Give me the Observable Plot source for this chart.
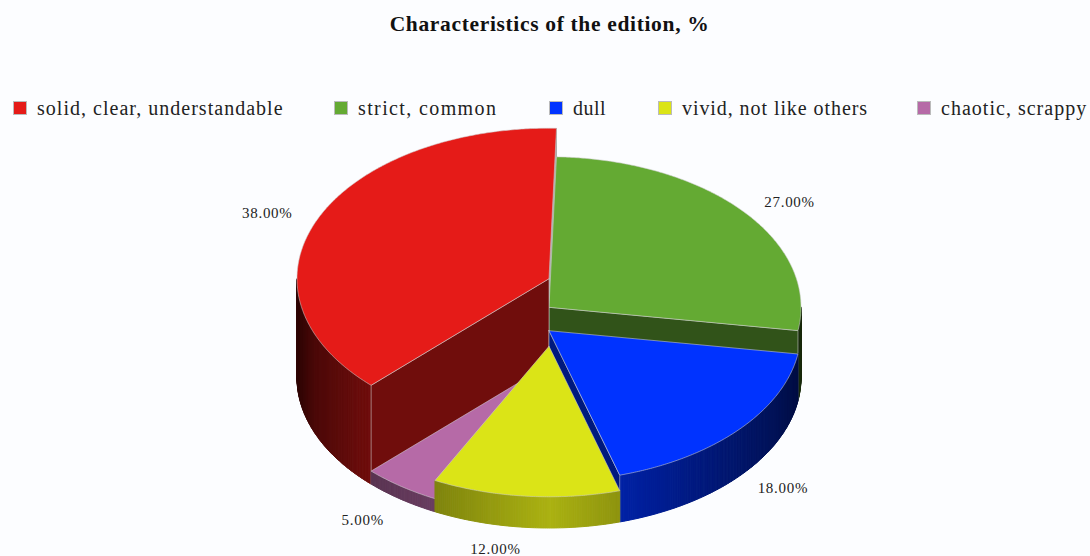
<!DOCTYPE html>
<html><head><meta charset="utf-8">
<script src="https://cdn.jsdelivr.net/npm/d3@7"></script>
<script src="https://cdn.jsdelivr.net/npm/@observablehq/plot@0.6"></script>
<style>
html,body{margin:0;padding:0;background:#fcfdff;overflow:hidden}
#title{height:48px;text-align:center;font:bold 21.5px/49px "Liberation Serif",serif;color:#111;padding-left:9px;letter-spacing:.66px}
#legend{position:relative;height:72px;white-space:nowrap;font:20px/24px "Liberation Serif",serif;color:#222}
#legend .it{position:absolute;top:48px;display:flex;align-items:center}
#legend i{display:inline-block;width:14px;height:14px;margin-right:10px;box-sizing:border-box;border:1px solid #bbb}
svg{display:block;background:transparent}
</style></head><body>
<div id="title"></div><div id="legend"></div><div id="chart"></div>
<script>
const chartTitle = "Characteristics of the edition, %";
const categories = ["solid, clear, understandable","strict, common","dull","vivid, not like others","chaotic, scrappy"];
const values = [38,27,18,12,5];
const valueLabels = ["38.00%","27.00%","18.00%","12.00%","5.00%"];
const colors = ["#e51b18","#64aa33","#0033ff","#dbe417","#b66aa7"];

// legend layout
const legendLeft=[13,334,549,658,917], legendSpacing=[1.02,1.38,.5,.93,1.02];

// pie geometry (tilted disc; each slice's height is proportional to its value)
const cx=548.5, baseY=377, rx=252, ry=150.5, perUnit=2.6, startDeg=1.7;
const rad=d=>d*Math.PI/180;
const px=a=>cx+rx*Math.sin(rad(a)), py=(a,lift)=>baseY-lift-ry*Math.cos(rad(a));
let acc=startDeg;
const order=[1,2,3,4,0];
const slices=[];
for(const i of order){const a0=acc,a1=acc+values[i]*3.6;acc=a1;slices[i]={i,a0,a1,h:values[i]*perUnit};}
const shade=d3.scaleLinear().domain([-1,-.93,-.71,-.45,0,.28,.9,1]).range([.2,.33,.49,.58,.78,.65,.34,.25]);
const scaleCol=(c,f)=>{const q=d3.rgb(c);return `rgb(${q.r*f},${q.g*f},${q.b*f})`;};
const EDGE="rgba(205,205,205,0.55)";

const polys=[];let pid=0;
function poly(pts,fill,stroke){const id=pid++;[...pts,pts[0]].forEach(p=>polys.push({id,x:p[0],y:p[1],fill,stroke}));}
function arc(a0,a1,lift){const out=[],n=Math.max(2,Math.ceil((a1-a0)/.5));for(let k=0;k<=n;k++){const a=a0+(a1-a0)*k/n;out.push([px(a),py(a,lift)]);}return out;}
function drawSlice(s){
  const c=colors[s.i];
  const w0=Math.max(s.a0,90),w1=Math.min(s.a1,270);
  if(w1>w0){
    const top=arc(w0,w1,s.h),bot=arc(w0,w1,0);
    for(let k=0;k<top.length-1;k++){
      const col=scaleCol(c,shade((top[k][0]+top[k+1][0])/2/rx-cx/rx));
      poly([top[k],top[k+1],bot[k+1],bot[k]],col,col);
    }
  }
  const wall=a=>poly([[cx,baseY-s.h],[px(a),py(a,s.h)],[px(a),py(a,0)],[cx,baseY]],scaleCol(c,.49),EDGE);
  if(s.i===1||s.i===2) wall(s.a1);
  if(s.i===0) wall(s.a0);
  poly([[cx,baseY-s.h],...arc(s.a0,s.a1,s.h)],c,EDGE);
}
// the edge-on wall of the red slice shows as a thin grey sliver beside the green one
{const s=slices[0],a=s.a1;poly([[cx,baseY-s.h],[px(a),py(a,s.h)],[px(a),py(a,0)],[cx,baseY]],"#aaaaaa","#aaaaaa");}
[1,0,2,4,3].forEach(i=>drawSlice(slices[i]));

// small placement corrections for the value labels, in pixels
const nudgeX=[3,2,1,-25,-4.5], nudgeY=[1,3,-1,3,6];
const labels=slices.map(s=>{
  const m=(s.a0+s.a1)/2,sn=Math.sin(rad(m)),cs=Math.cos(rad(m));
  return {t:valueLabels[s.i],
    x:cx+sn*310+nudgeX[s.i],
    y:(cs>0?baseY-s.h:baseY)-cs*169+nudgeY[s.i]};
});

document.getElementById("title").textContent=chartTitle;
const lg=document.getElementById("legend");
categories.forEach((c,i)=>{const d=document.createElement("div");d.className="it";
  d.style.left=legendLeft[i]+"px";d.style.letterSpacing=legendSpacing[i]+"px";
  const sw=document.createElement("i");sw.style.background=colors[i];d.append(sw,document.createTextNode(c));lg.append(d);});

const W=1090,H=436,top0=120;
document.getElementById("chart").append(Plot.plot({
  width:W,height:H,margin:0,
  x:{domain:[0,W],range:[0,W],axis:null},
  y:{domain:[top0,top0+H],range:[0,H],axis:null},
  color:{type:"identity"},
  style:{background:"transparent"},
  marks:[
    Plot.line(polys,{x:"x",y:"y",z:"id",fill:"fill",stroke:"stroke",strokeWidth:1,curve:"linear"}),
    Plot.text(labels,{x:"x",y:"y",text:"t",fontSize:15,fontFamily:"Liberation Serif",fill:"#222",
      render(i,s,v,d,c,n){const g=n(i,s,v,d,c);g.style.letterSpacing=".7px";return g;}})
  ]
}));
</script></body></html>
